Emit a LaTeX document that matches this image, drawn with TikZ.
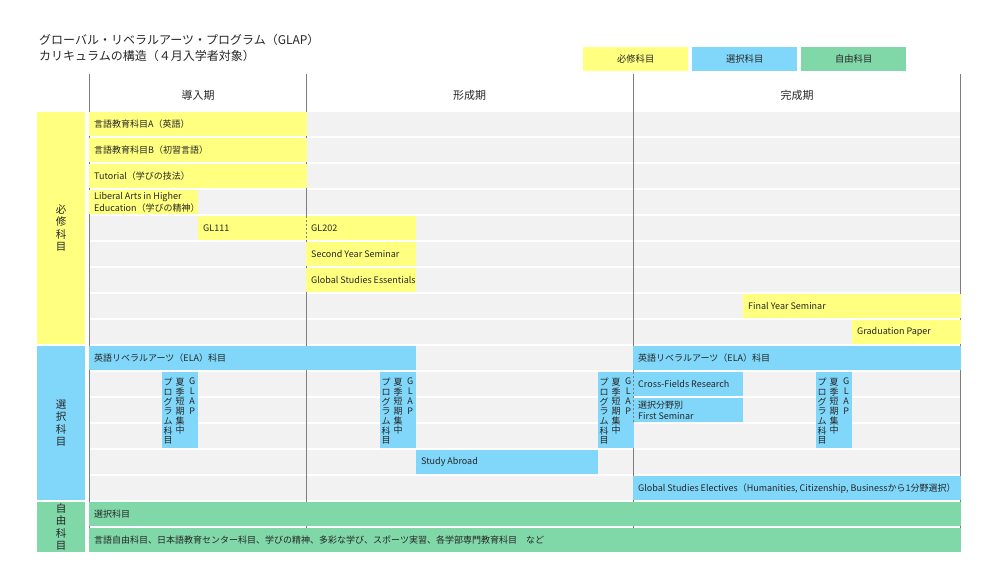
\documentclass[tikz,border=0pt]{standalone}
\usepackage{fontspec}
\setmainfont{Noto Sans CJK JP}
\usetikzlibrary{positioning}

\definecolor{hisshu}{RGB}{255,255,128}
\definecolor{sentaku}{RGB}{128,215,249}
\definecolor{jiyu}{RGB}{128,215,168}
\definecolor{rowgray}{RGB}{242,242,242}
\definecolor{gridgray}{RGB}{125,125,125}

% course box: name, left x, row, right x, colour, text
\newcommand{\course}[6]{%
  \node[cell, fill=#5, minimum width=#4-#2] (#1) at (#2,{86+26*#3}) {};
  \node[celltext, right=5pt of #1.west] (#1-t) {#6};}

% vertical GLAP box over rows 11-13
\newcommand{\glap}[2]{%
  \node[cell, fill=sentaku, minimum width=36, minimum height=76] (#1) at (#2,372) {};
  \node[tate, below=6pt of #1.north, xshift=-12pt] (#1-c) {プ\\ロ\\グ\\ラ\\ム\\科\\目};
  \node[tate, below=6pt of #1.north] (#1-b) {夏\\季\\短\\期\\集\\中};
  \node[tate, below=6pt of #1.north, xshift=12pt] (#1-a) {G\\L\\A\\P};}

\begin{document}
\begin{tikzpicture}[x=1pt,y=-1pt,
    every node/.style={text=black!85},
    cell/.style={anchor=north west, minimum height=24, inner sep=0},
    celltext/.style={inner sep=0, align=left, font=\fontsize{9}{11.5}\selectfont},
    tate/.style={inner sep=0, align=center, font=\fontsize{9}{9.7}\selectfont},
    cat/.style={anchor=north west, minimum width=48, inner sep=0, align=center,
      font=\fontsize{10.5}{12.5}\selectfont},
    phase/.style={inner sep=0, font=\fontsize{11}{13}\selectfont},
    legend/.style={anchor=north west, minimum width=105, minimum height=24, inner sep=0,
      font=\fontsize{9.3}{11}\selectfont},
    title/.style={anchor=base west, inner sep=0, font=\fontsize{12}{17}\selectfont}]
  \useasboundingbox (0,0) rectangle (1000,588);

  \node[title] (title1) at (39,45) {グローバル・リベラルアーツ・プログラム（GLAP）};
  \node[title] (title2) at (39,61) {カリキュラムの構造（４月入学者対象）};

  \node[legend, fill=hisshu] (leg-h) at (583,47) {必修科目};
  \node[legend, fill=sentaku] (leg-s) at (692,47) {選択科目};
  \node[legend, fill=jiyu] (leg-j) at (801,47) {自由科目};

  \node[phase] (dounyu) at (198,95) {導入期};
  \node[phase] (keisei) at (469.5,95) {形成期};
  \node[phase] (kansei) at (797,95) {完成期};

  % rows and period lines
  \foreach \i in {0,...,16}
    \fill[rowgray] (90,{112+26*\i}) rectangle (960,{136+26*\i});
  \foreach \x in {89.5,306.5,633.5,960.5}
    \draw[gridgray, line width=1pt] (\x,74) -- (\x,528);

  \node[cat, fill=hisshu, minimum height=232] (cat-h) at (37,112) {必\\修\\科\\目};
  \node[cat, fill=sentaku, minimum height=154] (cat-s) at (37,346) {選\\択\\科\\目};
  \node[cat, fill=jiyu, minimum height=50] (cat-j) at (37,502) {自\\由\\科\\目};

  \course{langA}{89}{1}{307}{hisshu}{言語教育科目A（英語）}
  \course{langB}{89}{2}{307}{hisshu}{言語教育科目B（初習言語）}
  \course{tutorial}{89}{3}{307}{hisshu}{Tutorial（学びの技法）}
  \course{liberal}{89}{4}{198}{hisshu}{Liberal Arts in Higher\\Education（学びの精神）}
  \course{gl111}{198}{5}{307}{hisshu}{GL111}
  \course{gl202}{306}{5}{416}{hisshu}{GL202}
  \course{seminar2}{306}{6}{416}{hisshu}{Second Year Seminar}
  \course{essentials}{306}{7}{416}{hisshu}{Global Studies Essentials}
  \course{seminar4}{743}{8}{961}{hisshu}{Final Year Seminar}
  \course{paper}{852}{9}{961}{hisshu}{Graduation Paper}

  \course{elaA}{89}{10}{416}{sentaku}{英語リベラルアーツ（ELA）科目}
  \course{elaB}{633}{10}{961}{sentaku}{英語リベラルアーツ（ELA）科目}
  \course{cross}{633}{11}{743}{sentaku}{Cross-Fields Research}
  \course{firstsem}{633}{12}{743}{sentaku}{選択分野別\\First Seminar}
  \course{abroad}{416}{14}{598}{sentaku}{Study Abroad}
  \course{electives}{633}{15}{961}{sentaku}{Global Studies Electives（Humanities, Citizenship, Businessから1分野選択）}
  \glap{glap1}{162}
  \glap{glap2}{380}
  \glap{glap3}{598}
  \glap{glap4}{816}

  \course{jiyuA}{89}{16}{961}{jiyu}{選択科目}
  \course{jiyuB}{89}{17}{961}{jiyu}{言語自由科目、日本語教育センター科目、学びの精神、多彩な学び、スポーツ実習、各学部専門教育科目　など}

  \draw[gridgray, dash pattern=on 2pt off 2pt] (gl202.north west) -- (gl202.south west);
  \draw[gridgray, dash pattern=on 2pt off 2pt] (cross.north west) -- (firstsem.south west);
\end{tikzpicture}
\end{document}
